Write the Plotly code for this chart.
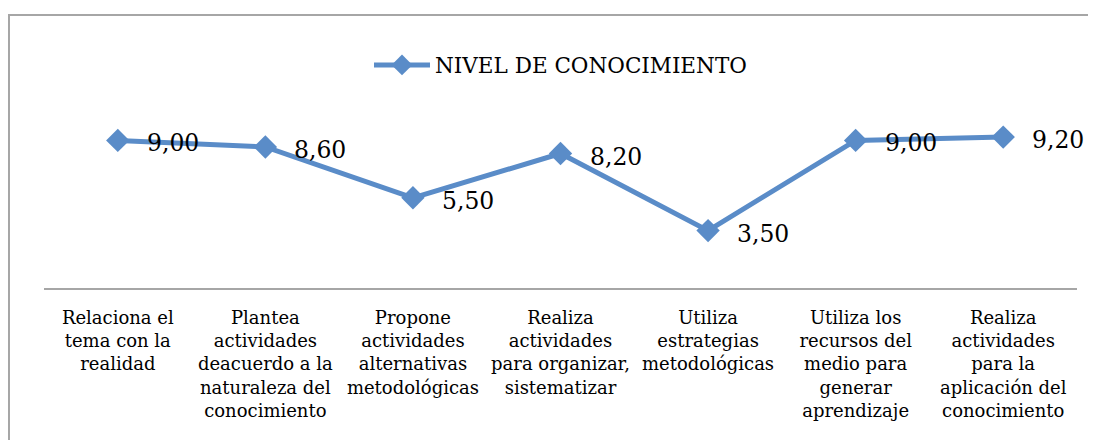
import plotly.graph_objects as go

categories = [
    "Relaciona el<br>tema con la<br>realidad",
    "Plantea<br>actividades<br>deacuerdo a la<br>naturaleza del<br>conocimiento",
    "Propone<br>actividades<br>alternativas<br>metodológicas",
    "Realiza<br>actividades<br>para organizar,<br>sistematizar",
    "Utiliza<br>estrategias<br>metodológicas",
    "Utiliza los<br>recursos del<br>medio para<br>generar<br>aprendizaje",
    "Realiza<br>actividades<br>para la<br>aplicación del<br>conocimiento",
]
values = [9.00, 8.60, 5.50, 8.20, 3.50, 9.00, 9.20]
series_name = "NIVEL DE CONOCIMIENTO"

color = "#5A8CC8"
serif = "DejaVu Serif, Liberation Serif, serif"

fig = go.Figure()
fig.add_trace(go.Scatter(
    x=list(range(len(categories))), y=values, mode="lines+markers", name=series_name,
    line=dict(color=color, width=5),
    marker=dict(symbol="diamond", size=18, color=color),
))

for i, v in enumerate(values):
    fig.add_annotation(x=i, y=v, text=f"{v:.2f}".replace(".", ","), showarrow=False,
                       xanchor="left", yanchor="middle", xshift=27, yshift=-3,
                       font=dict(family=serif, size=23.5, color="#000000"))

fig.add_shape(type="rect", xref="paper", yref="paper",
              x0=-0.0339, x1=1.06, y0=-1.2, y1=1.664,
              line=dict(color="#A6A6A6", width=2), layer="below")

fig.update_layout(
    width=1088, height=432,
    margin=dict(l=36, r=19, t=116, b=152),
    paper_bgcolor="white", plot_bgcolor="white",
    showlegend=True,
    legend=dict(orientation="h", x=0.5, xanchor="center", y=1.36, yanchor="middle",
                font=dict(family=serif, size=21.5, color="#000000"),
                itemwidth=56, bgcolor="rgba(0,0,0,0)"),
    xaxis=dict(tickmode="array", tickvals=list(range(len(categories))), ticktext=categories,
               range=[-0.5, len(categories) - 0.5],
               showline=True, linecolor="#A6A6A6", linewidth=2,
               showgrid=False, zeroline=False, ticks="",
               tickfont=dict(family=serif, size=18, color="#000000"),
               ticklabelstandoff=12, tickangle=0),
    yaxis=dict(range=[0, 10], visible=False, showgrid=False, zeroline=False),
)

fig.write_html("out.html")
